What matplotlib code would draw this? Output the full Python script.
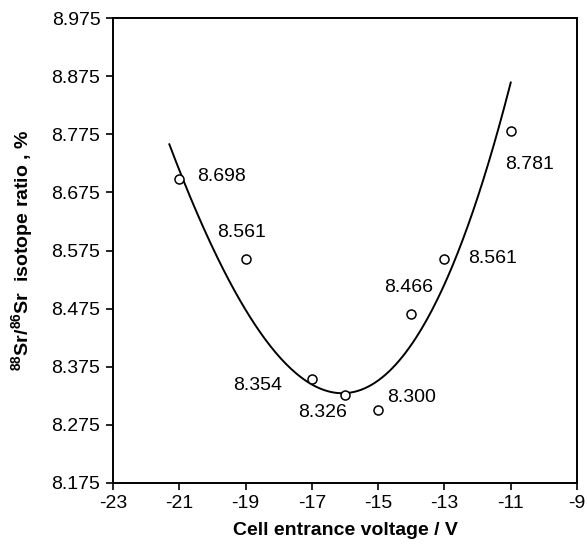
import numpy as np
import matplotlib.pyplot as plt

plt.rcParams['font.family'] = ['Liberation Sans', 'DejaVu Sans']
plt.rcParams['mathtext.fontset'] = 'custom'
plt.rcParams['mathtext.rm'] = 'Liberation Sans'
plt.rcParams['mathtext.bf'] = 'Liberation Sans:bold'
plt.rcParams['axes.unicode_minus'] = False

voltage = [-21, -19, -17, -16, -15, -14, -13, -11]
ratio = [8.698, 8.561, 8.354, 8.326, 8.300, 8.466, 8.561, 8.781]
labels = ['8.698', '8.561', '8.354', '8.326', '8.300', '8.466', '8.561', '8.781']
# label offsets in points (left edge of text, vertical centre)
offsets = [(12.7, 2.2), (-20.4, 19.2), (-57, -4.8), (-34, -12.7),
           (6.5, 9.6), (-19.9, 18.7), (16.8, 0), (-4.1, -24.5)]

# trendline
trend_x = [-21.3, -20.9, -19.9, -19.0, -17.9, -17.0, -16.0,
           -14.4, -13.6, -12.9, -11.4, -11.0]
trend_y = [8.755, 8.690, 8.585, 8.480, 8.385, 8.340, 8.320,
           8.372, 8.448, 8.555, 8.780, 8.855]

fig = plt.figure(figsize=(5.87, 5.45), dpi=100)
ax = fig.add_axes([0.1925, 0.1138, 0.7905, 0.853])

coef = np.polyfit(trend_x, trend_y, 3)
xs = np.linspace(min(trend_x), max(trend_x), 200)
ax.plot(xs, np.polyval(coef, xs), color='black', lw=1.4)

ax.plot(voltage, ratio, 'o', mfc='white', mec='black', mew=1.1, ms=6.5, ls='none')

for x, y, t, off in zip(voltage, ratio, labels, offsets):
    ax.annotate(t, (x, y), xytext=off, textcoords='offset points',
                fontsize=14, va='center', ha='left')

ax.set_xlim(-23, -9)
ax.set_ylim(8.175, 8.975)
ax.set_xticks(np.arange(-23, -8, 2))
yt = np.arange(8.175, 8.976, 0.1)
ax.set_yticks(yt)
ax.set_yticklabels([f'{v:.3f}' for v in yt])
ax.tick_params(direction='out', length=5, width=1.2, labelsize=14, pad=4)
for s in ax.spines.values():
    s.set_linewidth(1.4)

ax.set_xlabel('Cell entrance voltage / V', fontsize=14, fontweight='bold', labelpad=7)
ax.set_ylabel(r'$^{\mathbf{88}}$Sr/$^{\mathbf{86}}$Sr  isotope ratio , %', fontsize=14, fontweight='bold')
ax.yaxis.set_label_coords(-0.165, 0.5)

fig.savefig('out.png', dpi=100)
